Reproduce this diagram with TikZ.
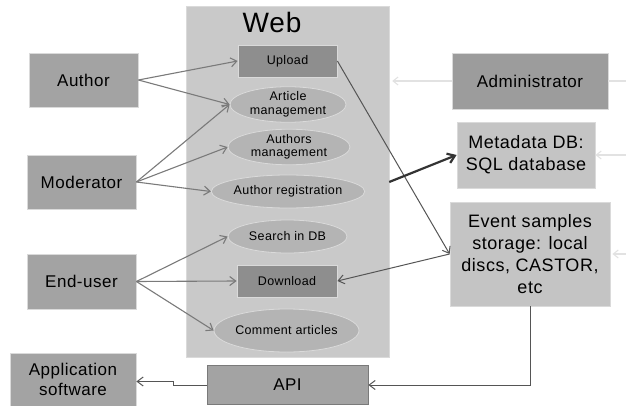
\documentclass[tikz,border=0pt]{standalone}
\usepackage{fontspec}
\setmainfont[LetterSpace=3]{Liberation Sans}
\usetikzlibrary{arrows.meta,shapes.geometric}
\definecolor{webbg}{HTML}{C9C9C9}
\definecolor{actorbg}{HTML}{A3A3A3}
\definecolor{darkbg}{HTML}{8E8E8E}
\definecolor{ellbg}{HTML}{B4B4B4}
\definecolor{lightbg}{HTML}{C4C4C4}
\definecolor{adminbg}{HTML}{9C9C9C}
\definecolor{edgec}{HTML}{DADADA}
\definecolor{arrc}{HTML}{7A7A7A}
\definecolor{darkarr}{HTML}{555555}
\definecolor{faint}{HTML}{E2E2E2}
\begin{document}
\begin{tikzpicture}[x=1pt,y=-1pt,
  box/.style={rectangle,draw=edgec,line width=0.8pt,inner sep=0pt,align=center},
  actor/.style={box,fill=actorbg,font=\fontsize{17}{20}\selectfont},
  func/.style={box,fill=darkbg,font=\fontsize{12.5}{14}\selectfont},
  usecase/.style={ellipse,draw=edgec,line width=0.8pt,fill=ellbg,inner sep=0pt,align=center,font=\fontsize{12.5}{13.5}\selectfont},
  store/.style={box,fill=lightbg,font=\fontsize{18}{22}\selectfont},
  uarr/.style={draw=arrc,line width=1.1pt,-{Straight Barb[length=6pt,width=9pt]}},
  farr/.style={draw=faint,line width=1.1pt,-{Straight Barb[length=5pt,width=8pt]}},
  darr/.style={draw=darkarr,line width=1pt,-{Straight Barb[length=6pt,width=9pt]}},
  tarr/.style={draw=black!80,line width=2.2pt,-{Straight Barb[length=7pt,width=10pt]}}
]
\useasboundingbox (0,0) rectangle (626,406);
% Web panel
\node[rectangle,fill=webbg,draw=edgec,minimum width=203pt,minimum height=351pt,inner sep=0pt] (web) at (287.5,182) {};
\node[font=\fontsize{28}{30}\selectfont] (webt) at (272,22) {Web};
% functions
\node[func,minimum width=99pt,minimum height=32pt] (upload) at (287.5,61) {Upload};
\node[usecase,minimum width=116pt,minimum height=31pt] (article) at (288,104.5) {Article\\management};
\node[usecase,minimum width=122pt,minimum height=32pt] (authors) at (289,147) {Authors\\management};
\node[usecase,minimum width=118pt,minimum height=33pt] (reg) at (288,191.5) {Author registration};
\node[usecase,minimum width=119pt,minimum height=33pt] (search) at (287.5,236.5) {Search in DB};
\node[func,minimum width=100pt,minimum height=32pt] (download) at (287,281) {Download};
\node[usecase,minimum width=117pt,minimum height=43pt] (comment) at (286.5,330.5) {Comment articles};
% actors
\node[actor,minimum width=109pt,minimum height=54pt] (author) at (83.5,80) {Author};
\node[actor,minimum width=109pt,minimum height=54pt] (moderator) at (81.5,182) {Moderator};
\node[actor,minimum width=109pt,minimum height=55pt] (enduser) at (81.5,281.5) {End-user};
\node[actor,minimum width=126pt,minimum height=53pt] (app) at (73,379.5) {Application\\software};
\node[actor,draw=arrc,minimum width=161pt,minimum height=39pt] (api) at (287.5,385) {API};
\node[actor,fill=adminbg,minimum width=156pt,minimum height=56pt] (admin) at (530,81) {Administrator};
\node[store,minimum width=138pt,minimum height=66pt] (meta) at (526,155) {Metadata DB:\\SQL database};
\node[store,minimum width=160pt,minimum height=104pt] (event) at (530,254) {Event samples\\storage: local\\discs, CASTOR,\\etc};
% actor arrows
\draw[uarr] (author.east) -- (upload.west);
\draw[uarr] (author.east) -- (article.west);
\draw[uarr] (moderator.east) -- (article.west);
\draw[uarr] (moderator.east) -- (authors.west);
\draw[uarr] (moderator.east) -- (reg.west);
\draw[uarr] (enduser.east) -- (search.west);
\draw[uarr] (enduser.east) -- (download.west);
\draw[uarr] (enduser.east) -- (comment.west);
% data flows
\draw[darr] (upload.east) -- (event.west);
\draw[darr] (event.west) -- (download.east);
\draw[tarr] (web.east) -- (meta.west);
\draw[darr] (event.south) |- (api.east);
\coordinate (kink) at (173,381.5);
\draw[darr] (api.west) -- (kink |- api.west) -- (kink) -- (app.east |- kink);
% faint arrows from the right edge
\coordinate (r1) at (626,81);
\coordinate (r2) at (626,155);
\coordinate (r3) at (626,254);
\draw[farr] (admin.west) -- ([xshift=3pt]admin.west -| web.east);
\draw[draw=faint,line width=1.1pt] (admin.east) -- (r1);
\draw[farr] (r2) -- (meta.east);
\draw[farr] (r3) -- ([xshift=2pt]event.east);
\end{tikzpicture}
\end{document}
